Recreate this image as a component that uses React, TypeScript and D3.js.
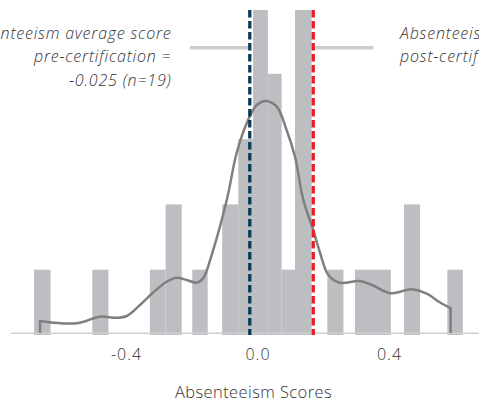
import React from 'react';
import * as d3 from 'd3';

// Histogram bins (score units) and counts
const binStart = [-0.681, -0.504, -0.329, -0.281, -0.200, -0.109, -0.060, -0.015, 0.030, 0.072, 0.1125, 0.211, 0.295, 0.350, 0.444, 0.576];
const binEnd = [-0.631, -0.455, -0.281, -0.232, -0.153, -0.060, -0.015, 0.030, 0.072, 0.1125, 0.163, 0.260, 0.350, 0.404, 0.493, 0.623];
const binCount = [1, 1, 1, 2, 1, 2, 3, 5, 4, 1, 5, 1, 1, 1, 2, 1];

// Density curve (score, scaled density in count units)
const kdeScore = [-0.663, -0.623, -0.551, -0.521, -0.481, -0.430, -0.399, -0.359, -0.318, -0.278, -0.247, -0.217, -0.186, -0.166, -0.141, -0.095, -0.065, -0.034, -0.004, 0.024, 0.057, 0.087, 0.1125, 0.138, 0.168, 0.189, 0.214, 0.249, 0.310, 0.350, 0.402, 0.468, 0.513, 0.554, 0.586];
const kdeDensity = [0.214, 0.188, 0.179, 0.219, 0.280, 0.265, 0.291, 0.459, 0.654, 0.816, 0.877, 0.842, 0.801, 0.877, 1.225, 2.067, 2.787, 3.247, 3.522, 3.583, 3.496, 3.139, 2.730, 2.067, 1.608, 1.256, 0.919, 0.801, 0.827, 0.758, 0.639, 0.701, 0.632, 0.498, 0.413];

const xTicks = [-0.4, 0.0, 0.4];
const preMean = -0.025;
const postMean = 0.168;
const preLines = ['Absenteeism average score', 'pre-certification =', '-0.025 (n=19)'];
const postLines = ['Absenteeism average score', 'post-certification = 0.168 (n=19)'];
const axisTitle = 'Absenteeism Scores';
const connectorLeftStart = -0.207;
const connectorRightEnd = 0.351;
const connectorLevel = 4.4;
const preTextAnchor = -0.263;
const postTextAnchor = 0.432;

const W = 479;
const H = 404;
const FONT = "'Open Sans', Lato, sans-serif";

export default function App() {
  const x = d3.scaleLinear().domain([-0.4, 0.4]).range([126.5, 389.5]);
  const y = d3.scaleLinear().domain([0, 5]).range([335, 8.5]);
  const plotTop = 10;

  const pts: [number, number][] = kdeScore.map((s, i) => [s, kdeDensity[i]]);
  const line = d3
    .line<[number, number]>()
    .x((d) => x(d[0]))
    .y((d) => y(d[1]))
    .curve(d3.curveCatmullRom.alpha(0.5));
  const first = pts[0];
  const last = pts[pts.length - 1];
  const curveD = `M${x(first[0])},${y(0) - 2}L` + (line(pts) || '').slice(1) + `L${x(last[0])},${y(0) - 2}`;

  const fmt = (v: number) => v.toFixed(1);
  const lineH = 23.3;

  return (
    <div style={{ position: 'fixed', left: 0, top: 0, width: W, height: H, background: '#fff' }}>
      <svg width={W} height={H} style={{ display: 'block' }} fontFamily={FONT}>
        <defs>
          <clipPath id="plotclip">
            <rect x={0} y={plotTop} width={W} height={H - plotTop} />
          </clipPath>
        </defs>
        {/* connectors */}
        <line x1={x(connectorLeftStart)} x2={x(preMean) - 2} y1={y(connectorLevel)} y2={y(connectorLevel)} stroke="#cccccc" strokeWidth={3.5} />
        <line x1={x(postMean) + 2} x2={x(connectorRightEnd)} y1={y(connectorLevel)} y2={y(connectorLevel)} stroke="#cccccc" strokeWidth={3.5} />
        <g clipPath="url(#plotclip)">
          {binCount.map((c, i) => (
            <rect
              key={i}
              x={x(binStart[i])}
              width={x(binEnd[i]) - x(binStart[i])}
              y={y(c)}
              height={y(0) - y(c)}
              fill="#bdbec2"
            />
          ))}
        </g>
        {/* axis line */}
        <line x1={11} x2={W} y1={333.3} y2={333.3} stroke="#d0d0d0" strokeWidth={1.5} />
        {/* density */}
        <path d={curveD} fill="none" stroke="#7f7f7f" strokeWidth={2.5} strokeLinejoin="round" />
        {/* mean lines */}
        <line x1={x(preMean)} x2={x(preMean)} y1={plotTop} y2={y(0)} stroke="#0d3a55" strokeWidth={3.3} strokeDasharray="7.5 3.5" />
        <line x1={x(postMean)} x2={x(postMean)} y1={plotTop} y2={y(0)} stroke="#ec1c24" strokeWidth={3.3} strokeDasharray="7.5 3.5" />
        {/* ticks */}
        {xTicks.map((t) => (
          <text key={t} x={x(t)} y={360} textAnchor="middle" fontSize={16} fill="#333" fontWeight={300} letterSpacing={1}>
            {fmt(t)}
          </text>
        ))}
        <text x={x(0) - 4.5} y={398} textAnchor="middle" fontSize={16.5} fill="#333" fontWeight={300} letterSpacing={0.4}>
          {axisTitle}
        </text>
        {/* annotations */}
        {preLines.map((s, i) => (
          <text key={'pre' + i} x={x(preTextAnchor)} y={39 + i * lineH} textAnchor="end" fontSize={16} fontStyle="italic" fontWeight={300} fill="#333" letterSpacing={0.8}>
            {s}
          </text>
        ))}
        {postLines.map((s, i) => (
          <text key={'post' + i} x={x(postTextAnchor)} y={39 + i * lineH} textAnchor="start" fontSize={16} fontStyle="italic" fontWeight={300} fill="#333" letterSpacing={0.8}>
            {s}
          </text>
        ))}
      </svg>
    </div>
  );
}
